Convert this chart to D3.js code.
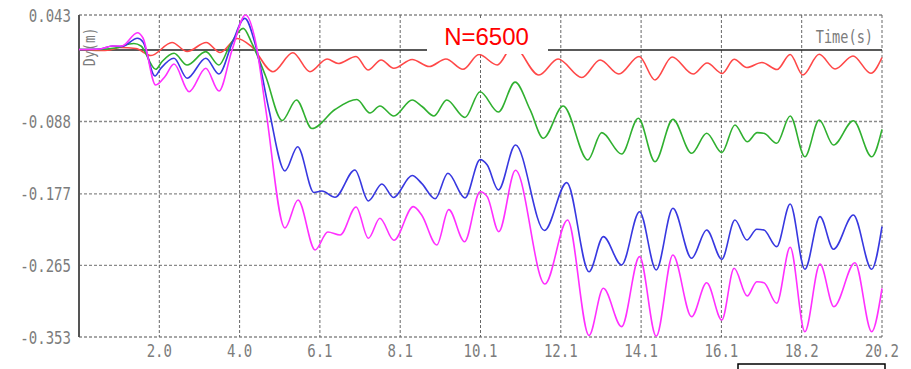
<!DOCTYPE html>
<html><head><meta charset="utf-8">
<script src="https://cdn.jsdelivr.net/npm/d3@7"></script>
<style>html,body{margin:0;padding:0;background:#fff;}svg{display:block;}</style>
</head><body>
<svg id="chart" width="911" height="369"></svg>
<script>
// ---- data (time in s, Dy in m) ----
const xTickLabels = ["2.0","4.0","6.1","8.1","10.1","12.1","14.1","16.1","18.2","20.2"];
const yTickValues = [0.043, -0.088, -0.177, -0.265, -0.353];
const yTickLabels = ["0.043","-0.088","-0.177","-0.265","-0.353"];
const seriesColors = ["#ff4848","#30b030","#3838e0","#ff30ff"];
const titleText = "N=6500";

const tRed = [0,0.53,0.78,1.03,1.43,1.81,2.34,2.72,3.20,3.55,3.98,4.35,4.88,5.38,5.81,6.24,6.52,6.97,7.27,7.60,7.92,8.38,8.81,9.23,9.66,10.06,10.52,10.92,11.57,12.05,12.65,13.11,13.58,14.09,14.49,14.92,15.45,15.80,16.18,16.48,16.80,17.18,17.56,17.89,18.21,18.62,19.02,19.47,19.92,20.2];
const dyRed = [0.0006,-0.0007,0.0000,0.0030,0.0018,-0.0068,0.0092,-0.0019,0.0092,-0.0031,0.0141,0.0037,-0.0267,-0.0034,-0.0267,-0.0111,-0.0166,-0.0080,-0.0246,-0.0123,-0.0225,-0.0117,-0.0203,-0.0111,-0.0238,-0.0056,-0.0185,0.0049,-0.0308,-0.0111,-0.0339,-0.0123,-0.0296,-0.0080,-0.0369,-0.0086,-0.0296,-0.0160,-0.0289,-0.0115,-0.0216,-0.0154,-0.0240,-0.0056,-0.0308,-0.0053,-0.0234,-0.0074,-0.0287,-0.0093];

const tGreen = [0,0.53,0.91,1.38,1.56,1.93,2.09,2.39,2.72,3.19,3.52,3.80,4.13,4.35,4.70,5.11,5.47,5.86,6.44,6.99,7.32,7.57,7.92,8.38,8.63,8.93,9.25,9.71,10.09,10.55,10.97,11.35,11.68,12.18,12.80,13.15,13.65,14.07,14.49,14.94,15.41,15.79,16.17,16.50,16.81,17.06,17.23,17.55,17.89,18.26,18.62,18.98,19.48,19.94,20.2];
const dyGreen = [0.0006,0.0006,0.0024,0.0080,0.0049,-0.0238,-0.0142,-0.0041,-0.0185,-0.0021,-0.0185,0.0061,0.0266,0.0082,-0.0329,-0.0867,-0.0615,-0.0966,-0.0732,-0.0609,-0.0775,-0.0689,-0.0812,-0.0615,-0.0695,-0.0812,-0.0615,-0.0830,-0.0513,-0.0763,-0.0396,-0.0738,-0.1086,-0.0689,-0.1353,-0.1017,-0.1279,-0.0840,-0.1374,-0.0853,-0.1271,-0.1025,-0.1263,-0.0923,-0.1128,-0.1017,-0.1025,-0.1148,-0.0812,-0.1313,-0.0861,-0.1169,-0.0870,-0.1313,-0.0976];

const tBlue = [0,0.53,0.84,1.08,1.47,1.61,1.91,2.06,2.39,2.72,3.19,3.52,3.85,4.17,4.45,4.78,5.18,5.50,5.91,6.11,6.44,6.94,7.28,7.62,7.91,8.38,8.62,8.96,9.28,9.71,10.09,10.27,10.55,10.98,11.71,12.27,12.83,13.19,13.65,14.10,14.52,14.94,15.41,15.79,16.17,16.50,16.80,17.05,17.23,17.55,17.89,18.26,18.64,18.98,19.48,19.94,20.2];
const dyBlue = [0.0006,0.0012,0.0049,0.0043,0.0144,0.0098,-0.0320,-0.0225,-0.0102,-0.0348,-0.0102,-0.0296,0.0082,0.0389,0.0040,-0.0738,-0.1488,-0.1190,-0.1753,-0.1734,-0.1812,-0.1476,-0.1857,-0.1648,-0.1814,-0.1544,-0.1640,-0.1830,-0.1517,-0.1820,-0.1349,-0.1415,-0.1722,-0.1169,-0.2220,-0.1632,-0.2727,-0.2296,-0.2644,-0.1989,-0.2706,-0.1947,-0.2562,-0.2214,-0.2574,-0.2091,-0.2337,-0.2205,-0.2214,-0.2419,-0.1894,-0.2697,-0.2050,-0.2451,-0.2030,-0.2697,-0.2173];

const tMagenta = [0,0.53,0.83,1.08,1.47,1.61,1.93,2.16,2.39,2.77,3.19,3.52,3.85,4.19,4.45,4.70,5.18,5.51,5.94,6.26,6.57,6.97,7.28,7.57,7.92,8.41,8.62,9.00,9.30,9.70,10.09,10.27,10.56,10.98,11.72,12.29,12.83,13.19,13.65,14.10,14.52,14.94,15.41,15.79,16.17,16.48,16.81,17.05,17.23,17.55,17.89,18.26,18.64,18.99,19.52,19.94,20.2];
const dyMagenta = [0.0006,0.0012,0.0049,0.0049,0.0212,0.0147,-0.0431,-0.0329,-0.0173,-0.0513,-0.0225,-0.0505,0.0000,0.0430,0.0082,-0.0738,-0.2189,-0.1845,-0.2460,-0.2239,-0.2276,-0.1931,-0.2316,-0.2070,-0.2341,-0.1927,-0.2030,-0.2398,-0.1964,-0.2358,-0.1743,-0.1804,-0.2235,-0.1480,-0.2878,-0.2091,-0.3511,-0.2931,-0.3403,-0.2542,-0.3521,-0.2521,-0.3280,-0.2862,-0.3321,-0.2685,-0.3026,-0.2850,-0.2862,-0.3115,-0.2427,-0.3465,-0.2632,-0.3157,-0.2616,-0.3465,-0.2931];

const series = [
  {t: tRed, v: dyRed, color: seriesColors[0]},
  {t: tGreen, v: dyGreen, color: seriesColors[1]},
  {t: tBlue, v: dyBlue, color: seriesColors[2]},
  {t: tMagenta, v: dyMagenta, color: seriesColors[3]}
];

// ---- layout ----
const tMax = 20.2;
const x = d3.scaleLinear().domain([0, tMax]).range([79, 882]);
const y = d3.scaleLinear().domain([-0.353, 0.043]).range([337, 15]);
const xTickValues = xTickLabels.map((d, i) => (i + 1) * tMax / xTickLabels.length);

const svg = d3.select("#chart");
svg.append("rect").attr("width", 911).attr("height", 369).attr("fill", "#fff");

// horizontal grid
svg.append("g").selectAll("line").data(yTickValues).join("line")
  .attr("x1", x(0)).attr("x2", x(tMax))
  .attr("y1", d => y(d)).attr("y2", d => y(d))
  .attr("stroke", "#8a8a8a").attr("stroke-width", 1.3).attr("stroke-dasharray", "3,2");
// vertical grid
svg.append("g").selectAll("line").data(xTickValues).join("line")
  .attr("x1", d => x(d)).attr("x2", d => x(d))
  .attr("y1", y(0.043)).attr("y2", y(-0.353))
  .attr("stroke", "#666").attr("stroke-width", 1).attr("stroke-dasharray", "3,2");

// zero line
svg.append("line").attr("x1", x(0)).attr("x2", x(tMax)).attr("y1", y(0)).attr("y2", y(0))
  .attr("stroke", "#222").attr("stroke-width", 1.6);

// left axis line
svg.append("line").attr("x1", x(0)).attr("x2", x(0)).attr("y1", y(0.043)).attr("y2", y(-0.353))
  .attr("stroke", "#555").attr("stroke-width", 2);

// curves
const line = d3.line().curve(d3.curveMonotoneX);
svg.append("g").selectAll("path").data(series).join("path")
  .attr("d", s => line(s.t.map((t, i) => [x(t), y(s.v[i])])))
  .attr("fill", "none").attr("stroke", s => s.color).attr("stroke-width", 1.6);

// white label box
svg.append("rect").attr("x", 427).attr("y", 18).attr("width", 121).attr("height", 36).attr("fill", "#fff");
svg.append("text").attr("x", 486.5).attr("y", 45).attr("text-anchor", "middle")
  .attr("font-family", "Liberation Sans, Arial, sans-serif").attr("font-size", 24)
  .attr("fill", "#ff0000").text(titleText);

// labels
const labFont = "DejaVu Sans Mono, monospace";
const labColor = "#7c7c7c";
svg.append("g").selectAll("text").data(yTickValues).join("text")
  .attr("transform", d => `translate(71,${y(d) + 6.5}) scale(0.78,1)`)
  .attr("text-anchor", "end").attr("font-family", labFont).attr("font-size", 18)
  .attr("fill", labColor).text((d, i) => yTickLabels[i]);
svg.append("g").selectAll("text").data(xTickValues).join("text")
  .attr("transform", d => `translate(${x(d)},357) scale(0.78,1)`)
  .attr("text-anchor", "middle").attr("font-family", labFont).attr("font-size", 18)
  .attr("fill", labColor).text((d, i) => xTickLabels[i]);

svg.append("text").attr("transform", `translate(873,43) scale(0.8,1)`)
  .attr("text-anchor", "end").attr("font-family", labFont).attr("font-size", 17)
  .attr("fill", labColor).text("Time(s)");
svg.append("text").attr("transform", `translate(95,66) rotate(-90) scale(0.85,1)`)
  .attr("text-anchor", "start").attr("font-family", labFont).attr("font-size", 15)
  .attr("fill", labColor).text("Dy(m)");

// bottom-right box
svg.append("rect").attr("x", 738).attr("y", 364).attr("width", 147).attr("height", 20)
  .attr("fill", "#fff").attr("stroke", "#000").attr("stroke-width", 1.5);
</script>
</body></html>
